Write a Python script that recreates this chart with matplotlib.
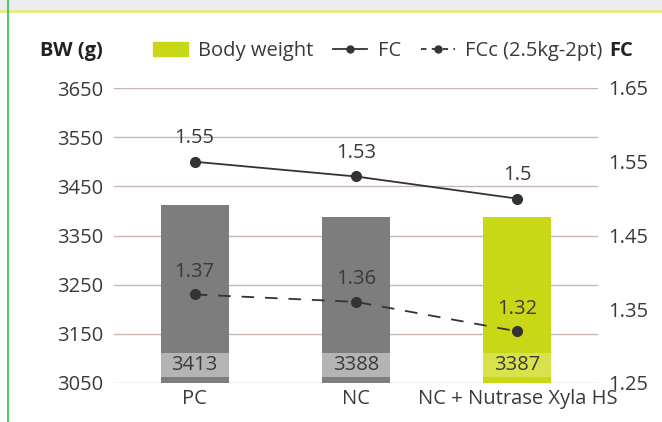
import matplotlib.pyplot as plt
from matplotlib.lines import Line2D
from matplotlib.patches import Patch, Rectangle

plt.rcParams['font.family'] = ['Open Sans', 'DejaVu Sans']

# dados
categorias = ['PC', 'NC', 'NC + Nutrase Xyla HS']
peso = [3413, 3388, 3387]
fc = [1.55, 1.53, 1.5]
fcc = [1.37, 1.36, 1.32]
ticks_bw = [3050, 3150, 3250, 3350, 3450, 3550, 3650]
ticks_fc = [1.25, 1.35, 1.45, 1.55, 1.65]

cinza = '#7d7d7d'
verde = '#c9d816'
texto = '#3a3a3a'
fs = 14.5

fig = plt.figure(figsize=(6.62, 4.22), dpi=100)
ax = fig.add_axes([114 / 662, 1 - 383 / 422, 484 / 662, 295 / 422])

x = list(range(len(categorias)))
cores = [cinza, cinza, verde]
ax.bar(x, [p - 3050 for p in peso], bottom=3050, width=0.42, color=cores, zorder=2)

# faixa clara atras dos rotulos das barras
cores_faixa = ['#b4b4b4', '#b4b4b4', '#d8e24a']
ax.bar(x, 48, bottom=3063, width=0.42, color=cores_faixa, zorder=3)
for i, p in enumerate(peso):
    ax.text(i, 3087, str(p), ha='center', va='center', fontsize=fs, color=texto, zorder=4)

ax.set_xlim(-0.5, 2.5)
ax.set_ylim(3050, 3650)
ax.set_yticks(ticks_bw)
ax.set_yticklabels([str(t) for t in ticks_bw])
ax.set_xticks(x)
ax.set_xticklabels(categorias)
ax.grid(axis='y', color='#c8b7af', linewidth=1, zorder=0)
ax.set_axisbelow(True)
for s in ax.spines.values():
    s.set_visible(False)
ax.tick_params(axis='both', length=0, labelsize=fs, colors=texto)
ax.tick_params(axis='y', pad=8)
ax.tick_params(axis='x', pad=4)

ax2 = ax.twinx()
ax2.set_ylim(1.25, 1.65)
ax2.set_yticks(ticks_fc)
ax2.set_yticklabels([f'{t:.2f}' for t in ticks_fc])
for s in ax2.spines.values():
    s.set_visible(False)
ax2.tick_params(axis='y', length=0, labelsize=fs, colors=texto, pad=7)

ax2.plot(x, fc, color='#333333', linewidth=1.3, marker='o', markersize=7, zorder=5)
ax2.plot(x, fcc, color='#333333', linewidth=1.3, linestyle=(0, (7, 6)), marker='o', markersize=7, zorder=5)
for i, v in enumerate(fc):
    ax2.annotate(f'{v:g}', (i, v), xytext=(0, 10), textcoords='offset points',
                 ha='center', va='bottom', fontsize=fs, color=texto)
for i, v in enumerate(fcc):
    ax2.annotate(f'{v:g}', (i, v), xytext=(0, 9), textcoords='offset points',
                 ha='center', va='bottom', fontsize=fs, color=texto)

# legenda
handles = [
    Patch(color=verde),
    Line2D([], [], color='#333333', linewidth=1.3, marker='o', markersize=5),
    Line2D([], [], color='#333333', linewidth=1.3, linestyle=(0, (3, 3)), marker='o', markersize=5),
]
fig.legend(handles, ['Body weight', 'FC', 'FCc (2.5kg-2pt)'], ncol=3, frameon=False,
           loc='center', bbox_to_anchor=(378 / 662, 1 - 51 / 422), fontsize=fs,
           handlelength=1.7, handletextpad=0.5, columnspacing=1.0, labelcolor=texto)
fig.text(40 / 662, 1 - 51 / 422, 'BW (g)', fontsize=fs, fontweight='bold', va='center', color='#222222')
fig.text(609 / 662, 1 - 51 / 422, 'FC', fontsize=fs, fontweight='bold', va='center', color='#222222')

# moldura
fig.patches.append(Rectangle((0, 1 - 10 / 422), 1, 10 / 422, transform=fig.transFigure,
                             color='#ececec', zorder=0))
fig.add_artist(Line2D([0, 1], [1 - 11 / 422] * 2, transform=fig.transFigure, color='#e6ea80', linewidth=2))
fig.add_artist(Line2D([8 / 662] * 2, [0, 1], transform=fig.transFigure, color='#2ec04a', linewidth=1.2))

fig.savefig('out.png', dpi=100)
